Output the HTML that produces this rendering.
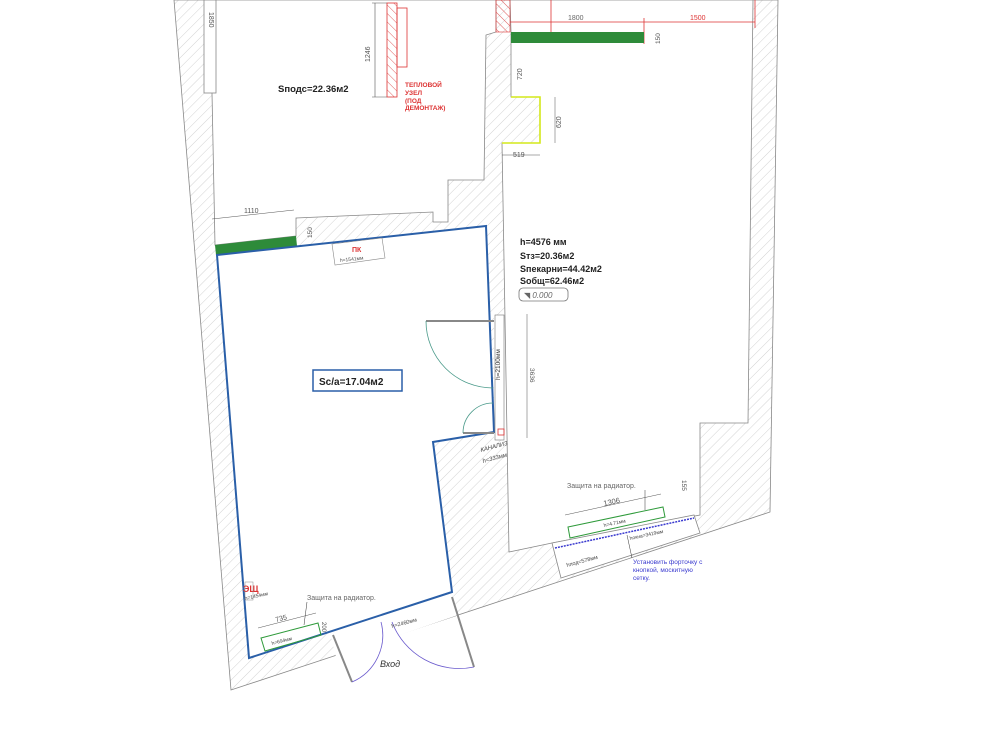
<!DOCTYPE html>
<html><head><meta charset="utf-8"><style>
html,body{margin:0;padding:0;background:#fff;}
svg{display:block;font-family:"Liberation Sans","DejaVu Sans",sans-serif;}
</style></head><body>
<svg width="1000" height="750" viewBox="0 0 1000 750" xmlns="http://www.w3.org/2000/svg">
<defs>
<pattern id="h" width="7" height="7" patternUnits="userSpaceOnUse" patternTransform="rotate(45)">
<line x1="0" y1="0" x2="0" y2="7" stroke="#c8c8c8" stroke-width="0.8"/>
</pattern>
<pattern id="rh" width="6" height="6" patternUnits="userSpaceOnUse" patternTransform="rotate(-45)">
<line x1="0" y1="0" x2="0" y2="6" stroke="#e06060" stroke-width="1"/>
</pattern>
</defs>
<rect width="1000" height="750" fill="#fff"/>
<!-- hatched walls -->
<polygon points="174,0 778,0 770,512 231,690" fill="url(#h)" stroke="#888" stroke-width="0.8"/>
<!-- top-left room -->
<polygon points="205,0 496,0 496,32 486,35 484,180 448,180 448,222 433,222 433,212 296,218 296,236 215,245 212,93" fill="#fff" stroke="#888" stroke-width="0.8"/>
<!-- blue room -->
<polygon points="217,255 486,226 494,432 433,442 452,592 249,658" fill="#fff"/>
<!-- corridor strip -->
<rect x="494" y="315" width="13" height="125" fill="#fff"/>
<!-- right room -->
<polygon points="510,0 753,0 748,423 700,423 700,515 552,543 509,552 502,143 540,143 540,97 511,97 511,32" fill="#fff" stroke="#888" stroke-width="0.8"/>
<!-- window -->
<polygon points="552,543 694,515 700,533 561,578" fill="#fff" stroke="#888" stroke-width="0.8"/>
<!-- entry opening -->
<polygon points="330,632 452,592 458,615 336,657" fill="#fff"/>
<!-- top left thin strip -->
<rect x="204" y="0" width="12" height="93" fill="#fff" stroke="#888" stroke-width="0.8"/>
<text transform="translate(209,12) rotate(90)" font-size="7" fill="#555">1850</text>
<!-- red heating block -->
<rect x="387" y="3" width="10" height="94" fill="url(#rh)" stroke="#d33" stroke-width="0.8"/>
<rect x="397" y="8" width="10" height="59" fill="none" stroke="#d33" stroke-width="0.8"/>
<line x1="375" y1="3" x2="375" y2="97" stroke="#555" stroke-width="0.6"/>
<line x1="372" y1="3" x2="387" y2="3" stroke="#555" stroke-width="0.5"/>
<line x1="372" y1="97" x2="387" y2="97" stroke="#555" stroke-width="0.5"/>
<text transform="translate(370,62) rotate(-90)" font-size="7" fill="#555">1246</text>
<text x="278" y="92" font-size="9.5" font-weight="bold" fill="#222">Sподс=22.36м2</text>
<g font-size="6.5" font-weight="bold" fill="#d33">
<text x="405" y="87">ТЕПЛОВОЙ</text><text x="405" y="95">УЗЕЛ</text><text x="405" y="103">(ПОД</text><text x="405" y="110">ДЕМОНТАЖ)</text></g>
<!-- top middle red -->
<rect x="496" y="0" width="14" height="32" fill="url(#rh)" stroke="#d33" stroke-width="0.6"/>
<line x1="551" y1="0" x2="551" y2="33" stroke="#d33" stroke-width="0.8"/>
<line x1="510" y1="22" x2="755" y2="22" stroke="#d33" stroke-width="0.8"/>
<line x1="755" y1="0" x2="755" y2="28" stroke="#d33" stroke-width="0.8"/>
<line x1="644" y1="18" x2="644" y2="44" stroke="#d33" stroke-width="0.8"/>
<text x="568" y="20" font-size="7" fill="#666">1800</text>
<text x="690" y="20" font-size="7" fill="#d33">1500</text>
<rect x="511" y="32" width="133" height="11" fill="#2e8b3a"/>
<text transform="translate(660,44) rotate(-90)" font-size="6.5" fill="#555">150</text>
<!-- yellow -->
<polyline points="511,97 540,97 540,143 502,143" fill="none" stroke="#d4e81a" stroke-width="1.6"/>
<text transform="translate(522,80) rotate(-90)" font-size="7" fill="#555">720</text>
<line x1="555" y1="97" x2="555" y2="143" stroke="#555" stroke-width="0.5"/>
<text transform="translate(561,128) rotate(-90)" font-size="7" fill="#555">620</text>
<line x1="502" y1="155" x2="540" y2="155" stroke="#555" stroke-width="0.5"/>
<text x="513" y="157" font-size="7" fill="#555">519</text>
<!-- 1110 dim -->
<line x1="212" y1="219" x2="294" y2="210" stroke="#555" stroke-width="0.5"/>
<text x="244" y="213" font-size="7" fill="#555">1110</text>
<text transform="translate(312,238) rotate(-90)" font-size="6.5" fill="#555">150</text>
<!-- green left bar -->
<polygon points="215,245 296,236 297,246 216,255" fill="#2e8b3a"/>
<!-- blue room outline -->
<polygon points="217,255 486,226 494,432 433,442 452,592 249,658" fill="none" stroke="#2a5fa8" stroke-width="2"/>
<!-- ПК -->
<polygon points="332,244 382,238 385,258 335,265" fill="#fff" stroke="#888" stroke-width="0.6"/>
<text x="352" y="252" font-size="7" font-weight="bold" fill="#d33">ПК</text>
<text x="340" y="262" font-size="5" fill="#555" transform="rotate(-6 340 262)">h=1541мм</text>
<!-- Sc/a -->
<rect x="313" y="370" width="89" height="21" fill="#fff" stroke="#2a5fa8" stroke-width="1.5"/>
<text x="319" y="385" font-size="10" font-weight="bold" fill="#222">Sc/a=17.04м2</text>
<!-- info -->
<g font-size="9" font-weight="bold" fill="#222">
<text x="520" y="245">h=4576 мм</text><text x="520" y="259">Sтз=20.36м2</text>
<text x="520" y="272">Sпекарни=44.42м2</text><text x="520" y="284">Sобщ=62.46м2</text></g>
<rect x="519" y="288" width="49" height="13" rx="4" fill="#fff" stroke="#777" stroke-width="0.8"/>
<text x="524" y="298" font-size="8" font-style="italic" fill="#666">◥ 0.000</text>
<!-- doors in middle wall -->
<line x1="426" y1="321" x2="494" y2="321" stroke="#888" stroke-width="2"/>
<path d="M426,321 A67,67 0 0 0 493,388" fill="none" stroke="#4a9a8a" stroke-width="0.8"/>
<line x1="463" y1="433" x2="494" y2="433" stroke="#888" stroke-width="2"/>
<path d="M463,433 A30,30 0 0 1 493,403" fill="none" stroke="#4a9a8a" stroke-width="0.8"/>
<rect x="495" y="315" width="9" height="125" fill="none" stroke="#777" stroke-width="0.6"/>
<text transform="translate(500,380) rotate(-90)" font-size="6.5" fill="#333">h=2100мм</text>
<line x1="527" y1="314" x2="527" y2="438" stroke="#555" stroke-width="0.5"/>
<text transform="translate(530,368) rotate(90)" font-size="6.5" fill="#555">3636</text>
<rect x="498" y="429" width="6" height="6" fill="none" stroke="#d33" stroke-width="0.8"/>
<g font-size="6" fill="#444" font-style="italic">
<text x="481" y="452" transform="rotate(-15 481 452)">КАНАЛИЗ</text>
<text x="483" y="463" transform="rotate(-15 483 463)">h=333мм</text></g>
<!-- right radiator -->
<polygon points="568,527 663,507 665,517 570,538" fill="none" stroke="#2e9a3a" stroke-width="1"/>
<line x1="565" y1="515" x2="661" y2="494" stroke="#555" stroke-width="0.5"/>
<text x="604" y="506" font-size="7.5" fill="#555" transform="rotate(-12 604 506)">1306</text>
<text x="567" y="488" font-size="7" fill="#666">Защита на радиатор.</text>
<line x1="645" y1="490" x2="645" y2="510" stroke="#333" stroke-width="0.5"/>
<text transform="translate(682,480) rotate(90)" font-size="6.5" fill="#555">155</text>
<text x="604" y="527" font-size="5" fill="#444" transform="rotate(-12 604 527)">h=4.71мм</text>
<path d="M555,548 L694,518" stroke="#3a3acf" stroke-width="1.5" stroke-dasharray="2,1"/>
<text x="630" y="540" font-size="5" fill="#444" transform="rotate(-12 630 540)">hокна=3419мм</text>
<text x="567" y="567" font-size="5.5" fill="#444" transform="rotate(-15 567 567)">hпод=578мм</text>
<line x1="627" y1="535" x2="632" y2="558" stroke="#333" stroke-width="0.5"/>
<g font-size="6.5" fill="#3a3acf"><text x="633" y="564">Установить форточку с</text><text x="633" y="572">кнопкой, москитную</text><text x="633" y="580">сетку.</text></g>
<!-- left bottom -->
<text x="243" y="592" font-size="9" font-weight="bold" fill="#d33">ЭЩ</text>
<rect x="245" y="582" width="8" height="18" fill="none" stroke="#888" stroke-width="0.5"/>
<text x="245" y="600" font-size="5" fill="#444" transform="rotate(-12 245 600)">h=1454мм</text>
<text x="307" y="600" font-size="7" fill="#666">Защита на радиатор.</text>
<line x1="307" y1="602" x2="304" y2="625" stroke="#333" stroke-width="0.5"/>
<polygon points="261,638 318,623 321,635 265,651" fill="none" stroke="#2e9a3a" stroke-width="1"/>
<line x1="258" y1="628" x2="316" y2="613" stroke="#555" stroke-width="0.5"/>
<text x="276" y="622" font-size="7" fill="#555" transform="rotate(-14 276 622)">735</text>
<text x="272" y="645" font-size="5" fill="#444" transform="rotate(-14 272 645)">h=694мм</text>
<text transform="translate(322,622) rotate(90)" font-size="6" fill="#555">200</text>
<!-- entrance -->
<line x1="333" y1="635" x2="352" y2="682" stroke="#888" stroke-width="2"/>
<path d="M352,682 A51,51 0 0 0 381,622" fill="none" stroke="#6a5acd" stroke-width="0.8"/>
<line x1="452" y1="597" x2="474" y2="667" stroke="#888" stroke-width="2"/>
<path d="M474,667 A72,72 0 0 1 392,622" fill="none" stroke="#6a5acd" stroke-width="0.8"/>
<text x="380" y="667" font-size="9" font-style="italic" fill="#333">Вход</text>
<text x="392" y="628" font-size="5.5" fill="#444" transform="rotate(-15 392 628)">h=2460мм</text>
</svg>
</body></html>
